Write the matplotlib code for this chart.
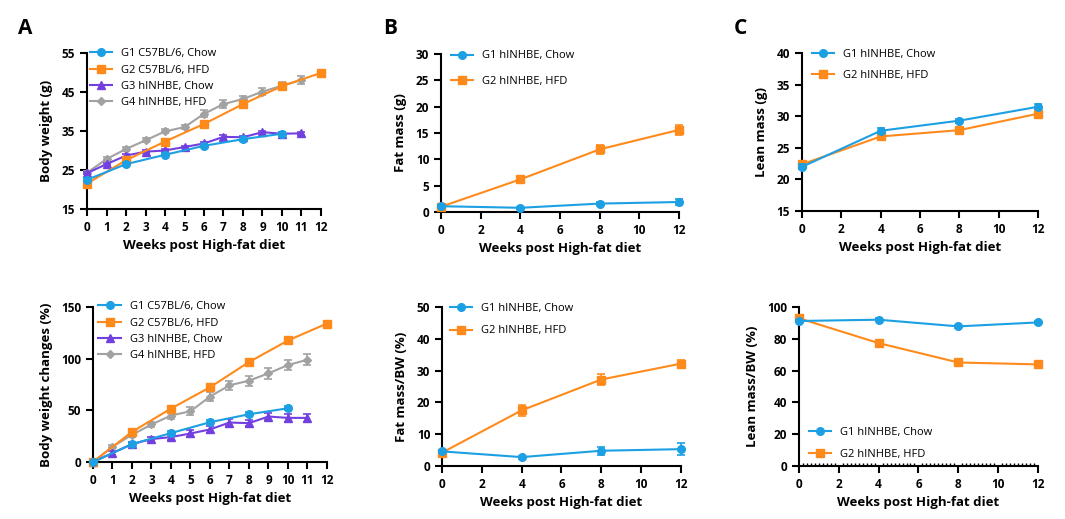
import numpy as np
import matplotlib
matplotlib.use("Agg")
import matplotlib.pyplot as plt

plt.rcParams['font.family'] = ['Open Sans', 'DejaVu Sans']

BLUE = '#1c9fe3'
ORANGE = '#ff8a1c'
PURPLE = '#7340e0'
GRAY = '#a2a2a2'

# ---- Panel A: body weight (g) ----
bw_g1_x = [0, 2, 4, 6, 8, 10]
bw_g1 = [22.5, 26.5, 28.9, 31.2, 32.9, 34.3]
bw_g1_err = [0.4, 0.4, 0.4, 0.4, 0.4, 0.5]
bw_g2_x = [0, 2, 4, 6, 8, 10, 12]
bw_g2 = [21.5, 27.5, 32.3, 36.8, 41.9, 46.5, 49.9]
bw_g2_err = [0.4, 0.4, 0.4, 0.5, 0.5, 0.6, 0.6]
bw_g3_x = [0, 1, 2, 3, 4, 5, 6, 7, 8, 9, 10, 11]
bw_g3 = [24.2, 26.5, 28.7, 29.7, 30.0, 30.9, 31.8, 33.5, 33.4, 34.7, 34.3, 34.4]
bw_g3_err = [0.3, 0.3, 0.3, 0.3, 0.3, 0.3, 0.4, 0.4, 0.4, 0.4, 0.4, 0.4]
bw_g4_x = [0, 1, 2, 3, 4, 5, 6, 7, 8, 9, 10, 11]
bw_g4 = [24.3, 27.8, 30.4, 32.6, 34.9, 36.0, 39.4, 41.9, 43.2, 45.1, 46.6, 48.1]
bw_g4_err = [0.4, 0.5, 0.5, 0.5, 0.5, 0.6, 0.9, 1.0, 0.9, 0.9, 0.9, 1.1]

# ---- Panel A: body weight changes (%) ----
bwc_g1 = [0, 17.3, 28.0, 38.5, 46.2, 52.0]
bwc_g1_err = [0, 1.5, 2.0, 2.0, 2.0, 2.0]
bwc_g2 = [0, 29.2, 51.7, 72.3, 96.7, 117.6, 134.0]
bwc_g2_err = [0, 2.0, 2.0, 2.5, 2.5, 2.5, 2.5]
bwc_g3 = [0, 8.7, 17.3, 22.2, 24.1, 27.6, 31.5, 38.2, 37.6, 44.0, 42.7, 42.7]
bwc_g3_err = [0, 1.5, 2.0, 2.0, 2.5, 3.0, 3.0, 3.0, 3.0, 3.5, 3.5, 3.5]
bwc_g4 = [0, 14.8, 26.3, 36.3, 45.0, 49.1, 63.3, 74.2, 78.7, 85.8, 93.8, 99.0]
bwc_g4_err = [0, 1.5, 2.0, 2.5, 3.0, 4.0, 4.0, 4.5, 5.0, 5.0, 5.0, 5.5]

# ---- Panels B and C ----
comp_x = [0, 4, 8, 12]
fat_g1 = [1.1, 0.8, 1.6, 1.9]
fat_g1_err = [0.2, 0.2, 0.3, 0.5]
fat_g2 = [1.0, 6.2, 11.9, 15.6]
fat_g2_err = [0.2, 0.4, 0.9, 0.9]
fatpct_g1 = [4.6, 2.8, 4.8, 5.3]
fatpct_g1_err = [0.5, 0.5, 1.3, 1.8]
fatpct_g2 = [4.2, 17.5, 27.2, 32.2]
fatpct_g2_err = [0.5, 1.7, 1.8, 1.2]
lean_g1 = [22.0, 27.7, 29.3, 31.5]
lean_g1_err = [0.4, 0.4, 0.3, 0.4]
lean_g2 = [22.4, 26.8, 27.8, 30.4]
lean_g2_err = [0.3, 0.3, 0.3, 0.3]
leanpct_g1 = [91.2, 92.0, 87.8, 90.3]
leanpct_g1_err = [0.8, 0.8, 1.0, 1.2]
leanpct_g2 = [92.9, 77.3, 65.1, 63.9]
leanpct_g2_err = [0.8, 1.5, 1.5, 1.2]

labels_a = ['G1 C57BL/6, Chow', 'G2 C57BL/6, HFD', 'G3 hINHBE, Chow', 'G4 hINHBE, HFD']
labels_bc = ['G1 hINHBE, Chow', 'G2 hINHBE, HFD']
xlabel = 'Weeks post High-fat diet'

STYLE = [(BLUE, 'o', 5.5), (ORANGE, 's', 6), (PURPLE, '^', 6), (GRAY, 'D', 4)]


def series(ax, x, y, err, idx, label):
    c, m, ms = STYLE[idx]
    z = 10 - idx
    ax.errorbar(x, y, yerr=err, color=c, marker=m, markersize=ms, lw=1.5,
                elinewidth=1.2, capsize=3, capthick=1.2, label=label,
                clip_on=False, zorder=z)


def style_axes(ax, ylim, yticks, xticks, ylabel):
    ax.set_xlim(0, 12)
    ax.set_ylim(*ylim)
    ax.set_xticks(xticks)
    ax.set_yticks(yticks)
    for s in ['top', 'right']:
        ax.spines[s].set_visible(False)
    for s in ['left', 'bottom']:
        ax.spines[s].set_linewidth(1.5)
    ax.tick_params(width=1.5, length=5, labelsize=8.5, pad=3.5)
    for t in ax.get_xticklabels() + ax.get_yticklabels():
        t.set_fontweight('bold')
    ax.set_xlabel(xlabel, fontsize=9.5, fontweight='bold', labelpad=3.5)
    ax.set_ylabel(ylabel, fontsize=9.5, fontweight='bold', labelpad=6)


def legend(ax, loc='upper left', anchor=(0.0, 1.06), spacing=0.4):
    h, l = ax.get_legend_handles_labels()
    h = [x[0] for x in h]
    ax.legend(h, l, loc=loc, bbox_to_anchor=anchor, frameon=False,
              fontsize=8, handlelength=2.0, labelspacing=spacing,
              handletextpad=0.8, borderaxespad=0.3)


fig = plt.figure(figsize=(10.65, 5.19), dpi=100)

# A top
ax = fig.add_axes([0.0817, 0.5973, 0.2197, 0.3006])
series(ax, bw_g1_x, bw_g1, bw_g1_err, 0, labels_a[0])
series(ax, bw_g2_x, bw_g2, bw_g2_err, 1, labels_a[1])
series(ax, bw_g3_x, bw_g3, bw_g3_err, 2, labels_a[2])
series(ax, bw_g4_x, bw_g4, bw_g4_err, 3, labels_a[3])
style_axes(ax, (15, 55), [15, 25, 35, 45, 55], range(0, 13), 'Body weight (g)')
legend(ax, anchor=(-0.02, 1.08), spacing=0.47)

# A bottom
ax = fig.add_axes([0.0873, 0.1098, 0.2197, 0.2987])
series(ax, bw_g1_x, bwc_g1, bwc_g1_err, 0, labels_a[0])
series(ax, bw_g2_x, bwc_g2, bwc_g2_err, 1, labels_a[1])
series(ax, bw_g3_x, bwc_g3, bwc_g3_err, 2, labels_a[2])
series(ax, bw_g4_x, bwc_g4, bwc_g4_err, 3, labels_a[3])
style_axes(ax, (0, 150), [0, 50, 100, 150], range(0, 13), 'Body weight changes (%)')
legend(ax, anchor=(-0.01, 1.087), spacing=0.47)

# B top
ax = fig.add_axes([0.4141, 0.5915, 0.2235, 0.3044])
series(ax, comp_x, fat_g1, fat_g1_err, 0, labels_bc[0])
series(ax, comp_x, fat_g2, fat_g2_err, 1, labels_bc[1])
style_axes(ax, (0, 30), range(0, 31, 5), range(0, 13, 2), 'Fat mass (g)')
legend(ax, anchor=(0.01, 1.072), spacing=1.32)

# B bottom
ax = fig.add_axes([0.4150, 0.1021, 0.2244, 0.3064])
series(ax, comp_x, fatpct_g1, fatpct_g1_err, 0, labels_bc[0])
series(ax, comp_x, fatpct_g2, fatpct_g2_err, 1, labels_bc[1])
style_axes(ax, (0, 50), range(0, 51, 10), range(0, 13, 2), 'Fat mass/BW (%)')
legend(ax, anchor=(0.0, 1.072), spacing=1.0)

# C top
ax = fig.add_axes([0.7531, 0.5934, 0.2216, 0.3044])
series(ax, comp_x, lean_g1, lean_g1_err, 0, labels_bc[0])
series(ax, comp_x, lean_g2, lean_g2_err, 1, labels_bc[1])
style_axes(ax, (15, 40), range(15, 41, 5), range(0, 13, 2), 'Lean mass (g)')
legend(ax, anchor=(0.01, 1.077), spacing=0.9)

# C bottom
ax = fig.add_axes([0.7502, 0.1021, 0.2244, 0.3064])
series(ax, comp_x, leanpct_g1, leanpct_g1_err, 0, labels_bc[0])
series(ax, comp_x, leanpct_g2, leanpct_g2_err, 1, labels_bc[1])
style_axes(ax, (0, 100), range(0, 101, 20), range(0, 13, 2), 'Lean mass/BW (%)')
ax.set_xticks(np.arange(0, 12.01, 0.2), minor=True)
ax.tick_params(axis='x', which='minor', direction='in', length=2, width=1)
legend(ax, loc='lower left', anchor=(0.01, -0.01), spacing=1.0)

for txt, xp in [('A', 25), ('B', 390), ('C', 740)]:
    fig.text(xp / 1065, 1 - 28 / 519, txt, fontsize=15, fontweight='bold',
             ha='center', va='center')

fig.savefig('out.png', dpi=100)
